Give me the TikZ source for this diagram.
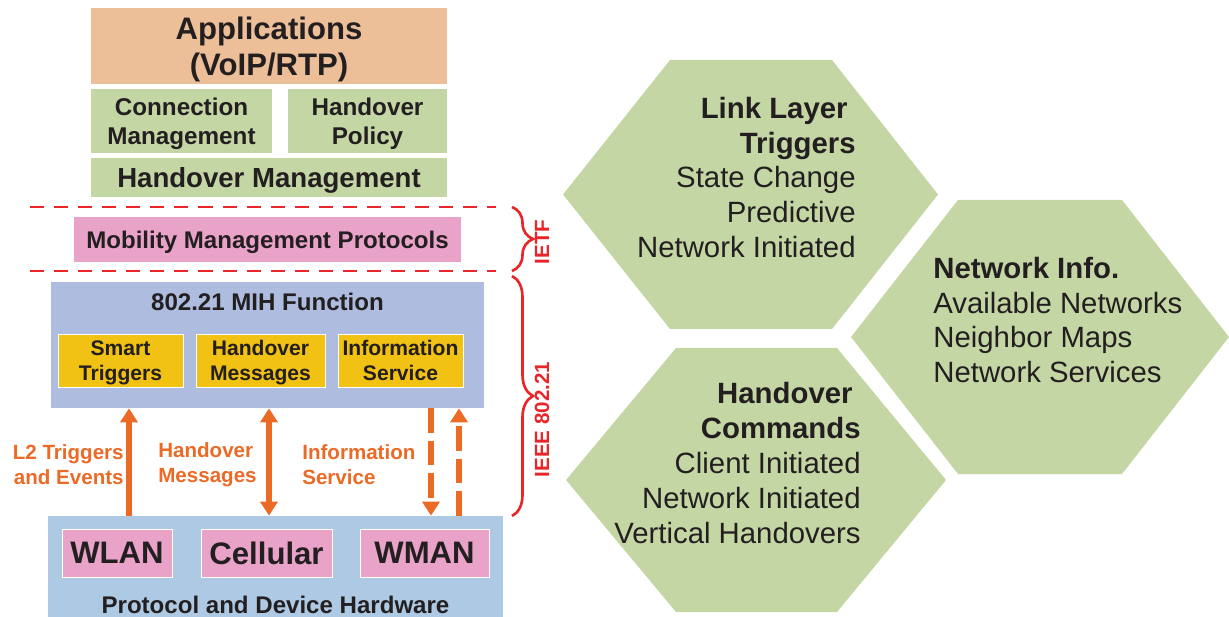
\documentclass[tikz,border=0pt]{standalone}
\usepackage{fontspec}
\setmainfont{Liberation Sans}
\usetikzlibrary{arrows.meta,decorations.pathreplacing}
\definecolor{mhpeach}{RGB}{237,191,153}
\definecolor{mhgreen}{RGB}{197,214,165}
\definecolor{mhpink}{RGB}{233,162,200}
\definecolor{mhlav}{RGB}{173,188,223}
\definecolor{mhyellow}{RGB}{241,193,20}
\definecolor{mhblue}{RGB}{173,201,227}
\definecolor{mhorange}{RGB}{235,106,37}
\definecolor{mhred}{RGB}{232,38,42}
\definecolor{mhtext}{RGB}{35,31,32}

\begin{document}
\begin{tikzpicture}[x=0.02cm,y=-0.02cm,>={Triangle[length=8pt,width=9.7pt]},
  box/.style={inner sep=0pt,align=center,text=mhtext,text depth=0pt},
  big/.style={font=\fontsize{17.7}{20.5}\selectfont\bfseries},
  mid/.style={font=\fontsize{13.7}{16.5}\selectfont\bfseries},
  small/.style={font=\fontsize{12}{14.2}\selectfont\bfseries},
  orglabel/.style={text=mhorange,inner sep=0pt,font=\fontsize{11.7}{14.2}\selectfont\bfseries},
  redlabel/.style={text=mhred,inner sep=0pt,rotate=90,font=\fontsize{11.7}{14}\selectfont\bfseries},
  orgline/.style={draw=mhorange,line width=3.1pt},
  dashline/.style={orgline,dash pattern=on 14pt off 4.5pt},
  ietfline/.style={draw=mhred,line width=1.7pt,dash pattern=on 8pt off 5.7pt},
  brc/.style={draw=mhred,line width=1.5pt,decorate,decoration={brace,amplitude=0.42cm}},
  hexa/.style={fill=mhgreen},
  hextext/.style={inner sep=0pt,text=mhtext,font=\fontsize{16.7}{19.9}\selectfont}]
  \useasboundingbox (0,0) rectangle (1229,617);

  \node[box,big,fill=mhpeach,minimum width=7.12cm,minimum height=1.52cm] (app) at (269,46) {Applications\\(VoIP/RTP)};
  \node[box,font=\fontsize{13.8}{16.5}\selectfont\bfseries,fill=mhgreen,minimum width=3.62cm,minimum height=1.28cm] (conn) at (181.5,121) {Connection\\Management};
  \node[box,font=\fontsize{13.8}{16.5}\selectfont\bfseries,fill=mhgreen,minimum width=3.18cm,minimum height=1.28cm] (policy) at (367.5,121) {Handover\\Policy};
  \node[box,font=\fontsize{15.7}{18}\selectfont\bfseries,fill=mhgreen,minimum width=7.12cm,minimum height=0.78cm] (hom) at (269,177.5) {Handover Management};

  \draw[ietfline] (30,207) -- (496,207);
  \draw[ietfline] (30,271) -- (496,271);
  \node[box,mid,fill=mhpink,minimum width=7.74cm,minimum height=0.9cm] (mmp) at (267.5,239.5) {Mobility Management Protocols};

  \node[box,fill=mhlav,minimum width=8.66cm,minimum height=2.52cm] (mih) at (267.5,345) {};
  \node[box,mid] (mihtitle) at (267.5,302) {802.21 MIH Function};
  \node[box,small,fill=mhyellow,draw=white,line width=0.4pt,minimum width=2.5cm,minimum height=1.06cm] (smart) at (120.5,360.5) {Smart\\Triggers};
  \node[box,small,fill=mhyellow,draw=white,line width=0.4pt,minimum width=2.58cm,minimum height=1.06cm] (hmsg) at (260.5,360.5) {Handover\\Messages};
  \node[box,small,fill=mhyellow,draw=white,line width=0.4pt,minimum width=2.5cm,minimum height=1.06cm] (info) at (400.5,360.5) {Information\\Service};

  \node[box,fill=mhblue,minimum width=9.1cm,minimum height=2.02cm] (hw) at (275.5,566.5) {};
  \node[box,big,fill=mhpink,draw=white,line width=0.4pt,minimum width=2.2cm,minimum height=0.96cm] (wlan) at (117,553) {WLAN};
  \node[box,big,fill=mhpink,draw=white,line width=0.4pt,minimum width=2.62cm,minimum height=0.96cm] (cell) at (266.5,553) {Cellular};
  \node[box,big,fill=mhpink,draw=white,line width=0.4pt,minimum width=2.58cm,minimum height=0.96cm] (wman) at (424.5,553) {WMAN};
  \node[box,mid] (hwtitle) at (275.5,605) {Protocol and Device Hardware};

  \coordinate (l2x) at (129,0);
  \coordinate (hmx) at (269,0);
  \coordinate (isdown) at (431,0);
  \coordinate (isup) at (459,0);
  \draw[orgline,->] (hw.north -| l2x) -- (mih.south -| l2x);
  \draw[orgline,<->] (hw.north -| hmx) -- (mih.south -| hmx);
  \draw[dashline,->] (mih.south -| isdown) -- (hw.north -| isdown);
  \draw[dashline,->] (hw.north -| isup) -- (mih.south -| isup);
  \node[orglabel,anchor=east,align=right] (l2lab) at (124,465) {L2 Triggers\\and Events};
  \node[orglabel,anchor=west,align=left] (hmlab) at (158,465) {Handover\\Messages};
  \node[orglabel,anchor=west,align=left] (islab) at (302,465) {Information\\Service};

  \draw[brc] (512,207) -- (512,271);
  \draw[brc] (512,276) -- (512,516);
  \node[redlabel] (ietf) at (542,242) {IETF};
  \node[redlabel] (ieee) at (542,419.5) {IEEE 802.21};

  \fill[hexa] (563,194.5) -- (670,60) -- (832,60) -- (938,194.5) -- (832,329) -- (670,329) -- cycle;
  \fill[hexa] (851,337) -- (958,200) -- (1122,200) -- (1229,337) -- (1122,474) -- (958,474) -- cycle;
  \fill[hexa] (566,480) -- (676,348) -- (837,348) -- (946,480) -- (837,612) -- (676,612) -- cycle;
  \node[hextext,anchor=east,align=right] (llt) at (856,177.5) {\textbf{Link Layer}\hspace*{4.6pt}\\\textbf{Triggers}\\State Change\\Predictive\\Network Initiated};
  \node[hextext,anchor=west,align=left] (ninfo) at (933,320) {\textbf{Network Info.}\\Available Networks\\Neighbor Maps\\Network Services};
  \node[hextext,anchor=east,align=right] (hcmd) at (861,463) {\textbf{Handover}\hspace*{4.6pt}\\\textbf{Commands}\\Client Initiated\\Network Initiated\\Vertical Handovers};
\end{tikzpicture}
\end{document}
